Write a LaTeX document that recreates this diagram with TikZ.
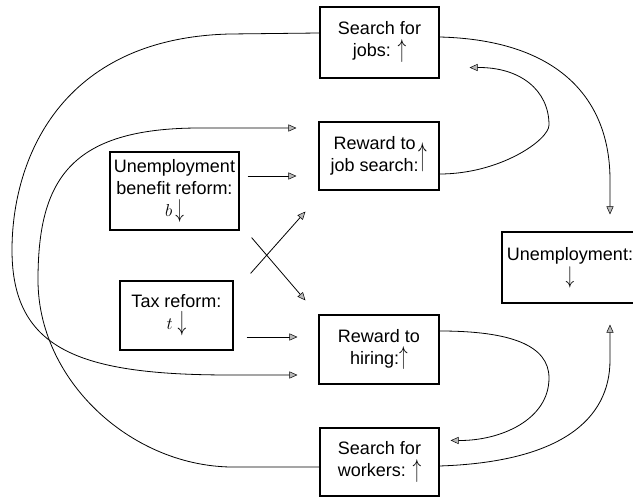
\documentclass[tikz,border=0pt]{standalone}
\usepackage{fontspec}
\usepackage{graphicx}
\setmainfont{Liberation Sans}
\usetikzlibrary{arrows.meta,calc}
\newcommand{\myup}[1][1.5]{\raisebox{-1pt}{\scalebox{1}[#1]{$\uparrow$}}}
\newcommand{\mydn}[1][1.5]{\raisebox{-1pt}{\scalebox{1}[#1]{$\downarrow$}}}
\begin{document}
\begin{tikzpicture}[x=1pt,y=-1pt,
  box/.style={draw,line width=1.2pt,rectangle,inner sep=0pt,align=center,
    font=\fontsize{18}{22}\selectfont},
  conn/.style={line width=0.8pt,-{Triangle[length=8pt,width=7pt,fill=gray!55,line width=0.5pt]}}]
\clip (0,0) rectangle (633,497);
\fill[white] (0,0) rectangle (633,497);

\node[box,minimum width=119pt,minimum height=71pt] (sj) at (379.5,42.5) {Search for\\jobs: \myup};
\node[box,minimum width=120pt,minimum height=68pt] (rj) at (379,156)
  {\begin{tabular}{@{}c@{}}Reward to\\job search:\end{tabular}\raisebox{-5.5pt}{\scalebox{1}[1.9]{$\uparrow$}}};
\node[box,minimum width=129pt,minimum height=78pt] (ub) at (174.5,191) {Unemployment\\benefit reform:\\$b$\,\mydn};
\node[box,minimum width=113pt,minimum height=69pt] (tr) at (176.5,315.5) {Tax reform:\\$t$\;\mydn[1.6]};
\node[box,minimum width=120pt,minimum height=69pt] (rh) at (379,349.5) {Reward to\\hiring:\myup};
\node[box,minimum width=119pt,minimum height=68pt] (sw) at (379.5,462) {Search for\\workers: \myup};
\node[box,minimum width=136pt,minimum height=71pt] (un) at (570,267.5) {Unemployment:\\\mydn[1.4]};

% straight arrows
\draw[conn] ($(ub.east)+(8,-15)$) -- ($(rj.west)+(-22,20)$);
\draw[conn] ($(tr.east)+(13,21.5)$) -- ($(rh.west)+(-21,-12.5)$);
\draw[conn] ($(ub.south east)+(12,7)$) -- ($(rh.north west)+(-13,-14)$);
\draw[conn] ($(tr.north east)+(17,-7)$) -- ($(rj.south west)+(-13,21)$);

% left curves
\draw[conn] ($(sj.west)+(0,-9.5)$) -- (230,34) .. controls (60,38) and (12,160) .. (12,250)
  .. controls (12,350) and (80,375) .. (230,375) -- ($(rh.west)+(-21,25.5)$);
\draw[conn] ($(sw.west)+(0,5)$) -- (230,467) .. controls (130,465) and (38,380) .. (38,280)
  .. controls (38,180) and (70,128) .. (200,128) -- ($(rj.west)+(-22,-28)$);

% right curves
\draw[conn] ($(sj.east)+(0,-5.5)$) .. controls (560,40) and (610,100) .. (610,180) -- ($(un.north)+(40,-17)$);
\draw[conn] ($(rj.east)+(0,18)$) .. controls (500,174) and (549,140) .. (549,125)
  .. controls (549,90) and (520,67) .. ($(sj.south east)+(30,-11)$);
\draw[conn] ($(rh.east)+(0,-18.5)$) .. controls (510,331) and (549,345) .. (549,378)
  .. controls (549,420) and (500,441) .. ($(sw.north east)+(11,13)$);
\draw[conn] ($(sw.east)+(0,4)$) .. controls (560,462) and (610,420) .. (610,360) -- ($(un.south)+(40,21)$);
\end{tikzpicture}
\end{document}
